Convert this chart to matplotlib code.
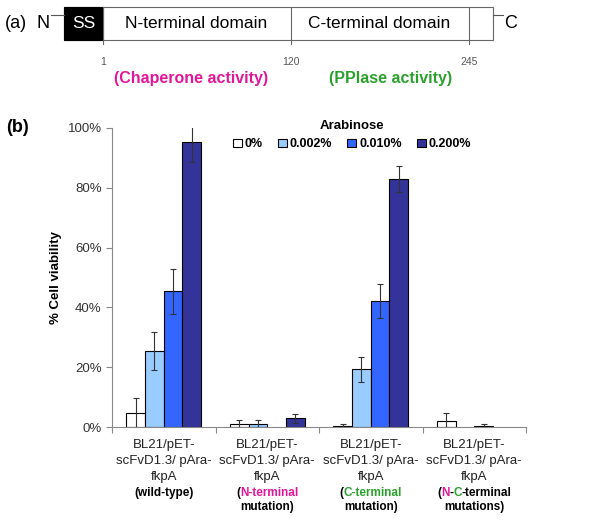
import matplotlib
matplotlib.use("Agg")
import matplotlib.pyplot as plt
import numpy as np
from matplotlib.patches import Rectangle

plt.rcParams.update({
    "font.family": ["Liberation Sans", "DejaVu Sans"],
    "font.size": 9,
})

# --- data ---
concentrations = ["0%", "0.002%", "0.010%", "0.200%"]
colors = ["#ffffff", "#99ccff", "#3366ff", "#333399"]
# rows: groups (wild-type, N-term, C-term, N-C-term); cols: arabinose conc.
viability = np.array([
    [4.6, 25.4, 45.4, 95.4],
    [1.0, 1.0, np.nan, 2.9],
    [0.3, 19.3, 42.0, 83.0],
    [2.1, np.nan, 0.3, np.nan],
])
errors = np.array([
    [5.0, 6.3, 7.5, 6.8],
    [1.4, 1.4, np.nan, 1.5],
    [0.8, 4.1, 5.7, 4.4],
    [2.7, np.nan, 0.7, np.nan],
])
strain = ["BL21/pET-", "scFvD1.3/ pAra-", "fkpA"]
notes = [
    [[("(wild-type)", "k")]],
    [[("(", "k"), ("N-terminal", "#e0179b")], [("mutation)", "k")]],
    [[("(", "k"), ("C-terminal", "#2ca02c")], [("mutation)", "k")]],
    [[("(", "k"), ("N", "#e0179b"), ("-", "k"), ("C", "#2ca02c"), ("-terminal", "k")],
     [("mutations)", "k")]],
]
domain_ticks = [1, 120, 245]

MAGENTA = "#e0179b"
GREEN = "#2ca02c"
AXIS = "#888888"

fig = plt.figure(figsize=(6, 5.25), dpi=100)


def fx(px):
    return px / 600


def fy(py):
    return 1 - py / 525


# --- panel (a): domain diagram ---
fig.text(fx(5), fy(24), "(a)", fontsize=13, va="center", ha="left")
fig.text(fx(43), fy(24), "N", fontsize=13, va="center", ha="center")
fig.add_artist(plt.Line2D([fx(51), fx(64)], [fy(15), fy(15)], color="#555", lw=0.8))
fig.add_artist(plt.Line2D([fx(493), fx(503)], [fy(15), fy(15)], color="#555", lw=0.8))
fig.text(fx(511), fy(24), "C", fontsize=13, va="center", ha="center")
fig.add_artist(Rectangle((fx(64), fy(40)), fx(493 - 64), fy(7) - fy(40),
                         facecolor="white", edgecolor="#666", lw=0.8))
fig.add_artist(Rectangle((fx(64), fy(40)), fx(103 - 64), fy(7) - fy(40),
                         facecolor="black", edgecolor="black", lw=0.8))
fig.text(fx(84), fy(24), "SS", color="white", fontsize=12.5, va="center", ha="center")
fig.text(fx(196), fy(24), "N-terminal domain", fontsize=12.5, va="center", ha="center")
fig.text(fx(379), fy(24), "C-terminal domain", fontsize=12.5, va="center", ha="center")
for px, lab in zip([103, 291, 469], domain_ticks):
    fig.add_artist(plt.Line2D([fx(px), fx(px)], [fy(7), fy(44)], color="#666", lw=0.8))
    fig.text(fx(px), fy(62), str(lab), fontsize=7.5, color="#555", ha="center", va="center")
fig.text(fx(191), fy(78), "(Chaperone activity)", color=MAGENTA, fontsize=11.5,
         fontweight="bold", ha="center", va="center")
fig.text(fx(391), fy(78), "(PPlase activity)", color=GREEN, fontsize=11.5,
         fontweight="bold", ha="center", va="center")

# --- panel (b): bar chart ---
fig.text(fx(6), fy(128), "(b)", fontsize=13, fontweight="bold", va="center", ha="left")
ax = fig.add_axes([fx(112), fy(427), fx(526 - 112), fy(128) - fy(427)])
w = 0.18
groups = np.arange(viability.shape[0])
for j, (lab, col) in enumerate(zip(concentrations, colors)):
    x = groups + (j - 1.5) * w
    v = viability[:, j]
    e = errors[:, j]
    ok = ~np.isnan(v)
    ax.bar(x[ok], v[ok], width=w, color=col, edgecolor="black", linewidth=0.8,
           label=lab, zorder=2)
    ax.errorbar(x[ok], v[ok], yerr=e[ok], fmt="none", ecolor="#333",
                elinewidth=0.8, capsize=2, capthick=0.8, zorder=3)

ax.set_xlim(-0.5, len(groups) - 0.5)
ax.set_ylim(0, 100)
ax.set_yticks([0, 20, 40, 60, 80, 100])
ax.set_yticklabels([f"{t}%" for t in [0, 20, 40, 60, 80, 100]], fontsize=9.5, color="#333")
ax.set_xticks(np.arange(len(groups) + 1) - 0.5)
ax.set_xticklabels([])
ax.tick_params(axis="both", color=AXIS, length=4, width=0.8)
for side in ("top", "right"):
    ax.spines[side].set_visible(False)
for side in ("left", "bottom"):
    ax.spines[side].set_color(AXIS)
ax.set_ylabel("% Cell viability", fontsize=9.5, fontweight="bold", labelpad=4)

# group labels below the axis
fig.canvas.draw()
renderer = fig.canvas.get_renderer()
for gi, g in enumerate(groups):
    xc = ax.transData.transform((g, 0))[0] / fig.dpi / 6
    for li, line in enumerate(strain):
        fig.text(xc, fy(445 + 16 * li), line, fontsize=9.5, color="#222",
                 ha="center", va="center")
    for li, parts in enumerate(notes[gi]):
        yy = fy(493 + 14 * li)
        tmp = [fig.text(0, 0, p, fontsize=8.5, fontweight="bold") for p, _ in parts]
        widths = [t.get_window_extent(renderer).width for t in tmp]
        for t in tmp:
            t.remove()
        x0 = xc * 600 - sum(widths) / 2
        for (p, c), wd in zip(parts, widths):
            fig.text(x0 / 600, yy, p, fontsize=8.5, fontweight="bold", color=c,
                     ha="left", va="center")
            x0 += wd

leg = fig.legend(loc="upper center", bbox_to_anchor=(fx(352), fy(115)), ncol=4,
                 frameon=False, title="Arabinose", handlelength=0.7, handleheight=0.7,
                 handletextpad=0.25, columnspacing=1.2, borderaxespad=0,
                 prop={"weight": "bold", "size": 9},
                 title_fontproperties={"weight": "bold", "size": 9.5})

fig.savefig("out.png", dpi=100)
